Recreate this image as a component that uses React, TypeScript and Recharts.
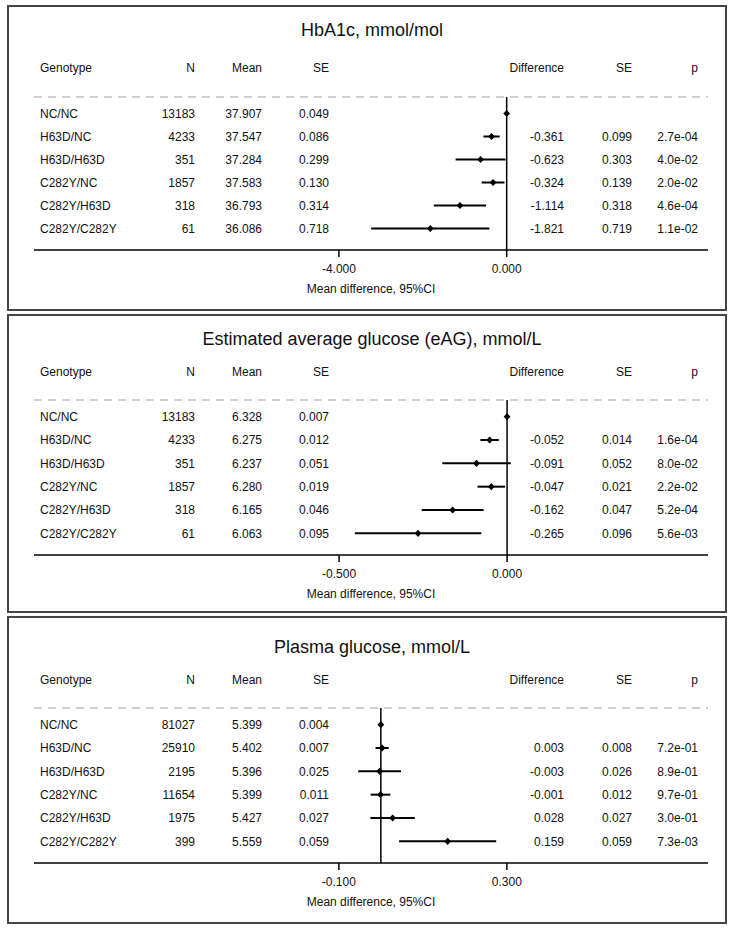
import React from 'react'
import { ComposedChart, Scatter, ErrorBar, XAxis, YAxis, ReferenceLine } from 'recharts'

const FONT = '"Liberation Sans", Arial, Helvetica, sans-serif'
const INK = '#111'

const GENOTYPES = ['NC/NC', 'H63D/NC', 'H63D/H63D', 'C282Y/NC', 'C282Y/H63D', 'C282Y/C282Y']

// HbA1c, mmol/mol
const HBA1C_N = [13183, 4233, 351, 1857, 318, 61]
const HBA1C_MEAN = [37.907, 37.547, 37.284, 37.583, 36.793, 36.086]
const HBA1C_SE = [0.049, 0.086, 0.299, 0.13, 0.314, 0.718]
const HBA1C_DIFF = [0, -0.361, -0.623, -0.324, -1.114, -1.821]
const HBA1C_DIFF_SE = [null, 0.099, 0.303, 0.139, 0.318, 0.719]
const HBA1C_P = ['', '2.7e-04', '4.0e-02', '2.0e-02', '4.6e-04', '1.1e-02']
const HBA1C_TICKS = [-4, 0]

// Estimated average glucose, mmol/L
const EAG_N = [13183, 4233, 351, 1857, 318, 61]
const EAG_MEAN = [6.328, 6.275, 6.237, 6.28, 6.165, 6.063]
const EAG_SE = [0.007, 0.012, 0.051, 0.019, 0.046, 0.095]
const EAG_DIFF = [0, -0.052, -0.091, -0.047, -0.162, -0.265]
const EAG_DIFF_SE = [null, 0.014, 0.052, 0.021, 0.047, 0.096]
const EAG_P = ['', '1.6e-04', '8.0e-02', '2.2e-02', '5.2e-04', '5.6e-03']
const EAG_TICKS = [-0.5, 0]

// Plasma glucose, mmol/L
const GLU_N = [81027, 25910, 2195, 11654, 1975, 399]
const GLU_MEAN = [5.399, 5.402, 5.396, 5.399, 5.427, 5.559]
const GLU_SE = [0.004, 0.007, 0.025, 0.011, 0.027, 0.059]
const GLU_DIFF = [0, 0.003, -0.003, -0.001, 0.028, 0.159]
const GLU_DIFF_SE = [null, 0.008, 0.026, 0.012, 0.027, 0.059]
const GLU_P = ['', '7.2e-01', '8.9e-01', '9.7e-01', '3.0e-01', '7.3e-03']
const GLU_TICKS = [-0.1, 0.3]

// column anchors inside a panel (genotype is left-aligned, the rest right-aligned)
const COL = { genotype: 31, n: 186, mean: 253, se: 320, diff: 555, diffSe: 623, p: 689 }
const CHART_W = 716
const PLOT_LEFT = 25
const PLOT_RIGHT = 17

type Spec = {
  title: string
  n: number[]
  mean: number[]
  se: number[]
  diff: number[]
  diffSe: (number | null)[]
  p: string[]
  ticks: number[]
  domain: [number, number]
  height: number
  titleY: number
  headerY: number
  plotTop: number
  axisY: number
}

const PANELS: Spec[] = [
  {
    title: 'HbA1c, mmol/mol',
    n: HBA1C_N, mean: HBA1C_MEAN, se: HBA1C_SE, diff: HBA1C_DIFF, diffSe: HBA1C_DIFF_SE, p: HBA1C_P,
    ticks: HBA1C_TICKS, domain: [-11.27, 4.8],
    height: 306, titleY: 23, headerY: 61, plotTop: 90, axisY: 243,
  },
  {
    title: 'Estimated average glucose (eAG), mmol/L',
    n: EAG_N, mean: EAG_MEAN, se: EAG_SE, diff: EAG_DIFF, diffSe: EAG_DIFF_SE, p: EAG_P,
    ticks: EAG_TICKS, domain: [-1.408, 0.598],
    height: 299, titleY: 23, headerY: 56, plotTop: 84, axisY: 239,
  },
  {
    title: 'Plasma glucose, mmol/L',
    n: GLU_N, mean: GLU_MEAN, se: GLU_SE, diff: GLU_DIFF, diffSe: GLU_DIFF_SE, p: GLU_P,
    ticks: GLU_TICKS, domain: [-0.826, 0.779],
    height: 308, titleY: 29, headerY: 62, plotTop: 90, axisY: 245,
  },
]

const Diamond = (props: any) => {
  const { cx, cy } = props
  if (cx == null || cy == null) return null
  return <polygon points={`${cx},${cy - 3.6} ${cx + 3.4},${cy} ${cx},${cy + 3.6} ${cx - 3.4},${cy}`} fill="#000" />
}

const headCell = (text: string, x: number, y: number, right = true) => (
  <span
    key={text + x}
    style={{
      position: 'absolute',
      left: x,
      top: y,
      transform: right ? 'translate(-100%, -50%)' : 'translateY(-50%)',
      whiteSpace: 'nowrap',
      fontSize: 12,
      color: INK,
    }}
  >
    {text}
  </span>
)

function Panel({ spec }: { spec: Spec }) {
  const rows = GENOTYPES.map((g, i) => ({
    genotype: g,
    n: spec.n[i],
    mean: spec.mean[i],
    se: spec.se[i],
    diff: spec.diff[i],
    diffSe: spec.diffSe[i],
    p: spec.p[i],
    ci: spec.diffSe[i] == null ? 0 : 1.96 * (spec.diffSe[i] as number),
  }))

  const innerH = spec.height - 4
  const xAxisH = innerH - spec.axisY

  // every table row is drawn at its category tick
  const renderRow = (props: any) => {
    const row = rows.find((r) => r.genotype === props.payload.value)
    if (!row) return <g />
    const y = props.y
    const cell = (text: string, x: number, anchor: 'start' | 'end' = 'end') => (
      <text x={x} y={y} dy="0.35em" textAnchor={anchor} fontSize={12} fill={INK}>
        {text}
      </text>
    )
    return (
      <g>
        {cell(row.genotype, COL.genotype, 'start')}
        {cell(String(row.n), COL.n)}
        {cell(row.mean.toFixed(3), COL.mean)}
        {cell(row.se.toFixed(3), COL.se)}
        {row.diffSe != null && cell(row.diff.toFixed(3), COL.diff)}
        {row.diffSe != null && cell(row.diffSe.toFixed(3), COL.diffSe)}
        {cell(row.p, COL.p)}
      </g>
    )
  }

  return (
    <div
      style={{
        position: 'relative',
        width: 720,
        height: spec.height,
        boxSizing: 'border-box',
        border: '2px solid #444',
        marginBottom: 3,
        background: '#fff',
      }}
    >
      <div
        style={{
          position: 'absolute',
          left: 363,
          top: spec.titleY,
          transform: 'translate(-50%, -50%)',
          whiteSpace: 'nowrap',
          fontSize: 18,
          color: INK,
        }}
      >
        {spec.title}
      </div>
      {headCell('Genotype', COL.genotype, spec.headerY, false)}
      {headCell('N', COL.n, spec.headerY)}
      {headCell('Mean', COL.mean, spec.headerY)}
      {headCell('SE', COL.se, spec.headerY)}
      {headCell('Difference', COL.diff, spec.headerY)}
      {headCell('SE', COL.diffSe, spec.headerY)}
      {headCell('p', COL.p, spec.headerY)}

      <ComposedChart
        layout="vertical"
        width={CHART_W}
        height={innerH}
        data={rows}
        margin={{ top: spec.plotTop - 1, right: PLOT_RIGHT, bottom: 0, left: PLOT_LEFT - 1 }}
        style={{ position: 'absolute', left: 0, top: 0, fontFamily: FONT }}
      >
        {/* dashed rule under the header row */}
        <XAxis
          xAxisId="top"
          orientation="top"
          type="number"
          dataKey="diff"
          domain={spec.domain}
          allowDataOverflow
          height={1}
          tick={false}
          tickLine={false}
          axisLine={{ stroke: '#cfcfcf', strokeWidth: 2, strokeDasharray: '8 6' }}
        />
        <XAxis
          type="number"
          dataKey="diff"
          domain={spec.domain}
          allowDataOverflow
          ticks={spec.ticks}
          tickFormatter={(v: number) => v.toFixed(3)}
          height={xAxisH}
          tickSize={7}
          tickMargin={7}
          tick={{ fill: INK, fontSize: 12 }}
          axisLine={{ stroke: '#000', strokeWidth: 1.5 }}
          tickLine={{ stroke: '#000', strokeWidth: 1.5 }}
          label={{
            value: 'Mean difference, 95%CI',
            position: 'insideBottom',
            offset: xAxisH - 43,
            fill: INK,
            fontSize: 12,
          }}
        />
        <YAxis
          type="category"
          dataKey="genotype"
          scale="band"
          width={1}
          padding={{ top: 5, bottom: 10 }}
          axisLine={false}
          tickLine={false}
          tick={renderRow}
          interval={0}
        />
        <ReferenceLine x={0} stroke="#000" strokeWidth={1.5} />
        <Scatter dataKey="diff" isAnimationActive={false} shape={Diamond} fill="#000">
          <ErrorBar dataKey="ci" direction="x" width={0} stroke="#000" strokeWidth={2} />
        </Scatter>
      </ComposedChart>
    </div>
  )
}

export default function App() {
  return (
    <div style={{ position: 'absolute', left: 7, top: 5, width: 720, fontFamily: FONT }}>
      {PANELS.map((p) => (
        <Panel key={p.title} spec={p} />
      ))}
    </div>
  )
}
